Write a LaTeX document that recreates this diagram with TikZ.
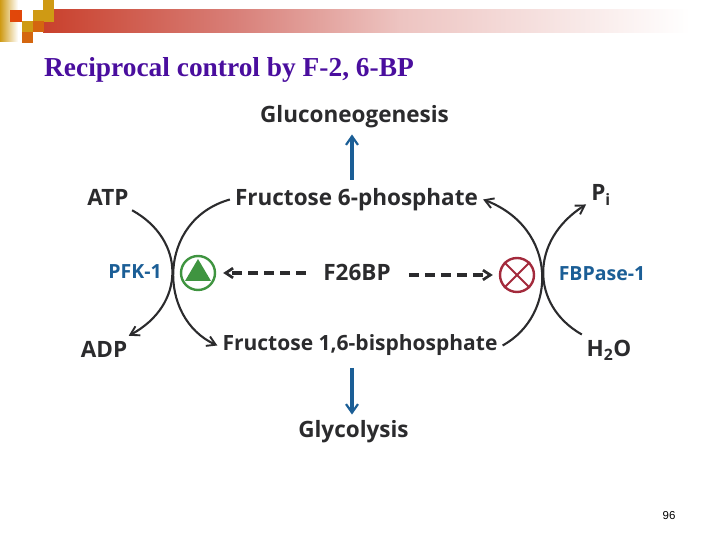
\documentclass[tikz,border=0pt]{standalone}
\usepackage{fontspec}
\setmainfont{Open Sans}
\newfontfamily\titlefont{Liberation Serif}
\newfontfamily\pagefont{Liberation Sans}
\usepackage{xcolor}
\usetikzlibrary{arrows.meta,positioning}
\definecolor{bioInk}{HTML}{2B2B2D}
\definecolor{bioBlue}{HTML}{1B5E96}
\definecolor{bioGreen}{HTML}{3F9440}
\definecolor{bioRed}{HTML}{A32A3C}
\definecolor{slideTitle}{HTML}{4A0E9E}
\definecolor{slideRed}{HTML}{C9402C}
\definecolor{slideMid}{HTML}{D87F78}
\definecolor{slideLow}{HTML}{EDC4C1}
\definecolor{slideGold}{HTML}{CF9A14}
\definecolor{slideOrange}{HTML}{D4660F}
\tikzset{
  metab/.style={font=\bfseries\fontsize{22.5}{26}\selectfont, text=bioInk, inner sep=5pt},
  enzyme/.style={font=\bfseries\fontsize{19.5}{23}\selectfont, text=bioBlue, inner sep=2pt},
  arrcurve/.style={-{Straight Barb[length=3mm,width=3.6mm,line width=1.9pt]}, line width=2.1pt, draw=bioInk},
  arrdash/.style={-{Straight Barb[length=2.6mm,width=3.4mm,line width=2.7pt]}, line width=3.2pt, draw=bioInk, dash pattern=on 10pt off 6pt},
  arrpath/.style={-{Straight Barb[length=3mm,width=4.2mm,line width=2.2pt]}, line width=3.2pt, draw=bioBlue},
  square/.style={minimum size=11pt, inner sep=0pt, draw=none, fill=#1},
}
\begin{document}
\begin{tikzpicture}[x=1pt,y=1pt]
\useasboundingbox (0,0) rectangle (720,540);

% slide header
\fill[left color=slideGold, right color=white] (0,498) rectangle (18,540);
\fill[left color=slideRed, right color=slideMid] (43,507) rectangle (235,530);
\fill[left color=slideMid, right color=slideLow] (235,507) rectangle (400,530);
\fill[left color=slideLow, right color=white] (400,507) rectangle (690,530);
\node[square=slideOrange!70!red, minimum size=12pt] (sqA) at (16,524) {};
\node[square=slideGold] (sqB) at (38,524) {};
\node[square=slideGold, minimum height=22pt] (sqC) at (48.5,529) {};
\node[square=slideGold] (sqD) at (27,513) {};
\node[square=slideOrange] (sqE) at (38,513) {};
\node[square=slideOrange] (sqF) at (27.5,502) {};
\node[anchor=base west, inner sep=0pt, font=\titlefont\bfseries\fontsize{27.4}{32}\selectfont, text=slideTitle] (title) at (44,463) {Reciprocal control by F-2, 6-BP};
\node[font=\pagefont\fontsize{11.5}{13}\selectfont, text=black] (pageno) at (669,24) {96};

% metabolites
\node[metab] (f6p) at (356.5,340.5) {Fructose 6-phosphate};
\node[metab, font=\bfseries\fontsize{21}{25}\selectfont] (fbp) at (360,194.5) {Fructose 1,6-bisphosphate};
\node[metab] (f26) at (357,268) {F26BP};
\node[metab] (gng) at (354.5,423) {Gluconeogenesis};
\node[metab] (gly) at (353.5,108) {Glycolysis};
\node[metab] (atp) at (108,343) {ATP};
\node[metab] (adp) at (104,191) {ADP};
\node[metab] (pi) at (601,345) {P\textsubscript{i}};
\node[metab] (water) at (609,190) {H\textsubscript{2}O};

% enzymes
\node[enzyme] (pfk) at (135,268) {PFK-1};
\node[enzyme] (fbpase) at (602,266) {FBPase-1};

% effector marks
\node[circle, draw=bioGreen, line width=2.4pt, minimum size=34pt, inner sep=0pt] (activ) at (198,267) {};
\fill[bioGreen] (185,259) -- (211,259) -- (198,281) -- cycle;
\node[circle, draw=bioRed, line width=2.4pt, minimum size=34pt, inner sep=0pt] (inhib) at (517,265) {};
\draw[bioRed, line width=2pt] (inhib.north west) -- (inhib.south east);
\draw[bioRed, line width=2pt] (inhib.north east) -- (inhib.south west);

% pathway arrows
\coordinate (upstart) at (352,360);
\coordinate (downstart) at (352,172);
\draw[arrpath, shorten >=1pt] (upstart) -- (upstart |- gng.south);
\draw[arrpath, shorten >=1pt] (downstart) -- (downstart |- gly.north);
\draw[arrdash, shorten <=12pt, shorten >=7pt] (f26.west |- activ) -- (activ);
\draw[arrdash, shorten <=13pt, shorten >=6pt] (f26.east |- inhib) -- (inhib);

% PFK-1 curves
\draw[arrcurve] (atp) .. controls (186,300) and (186,235) .. (adp);
\draw[arrcurve] (f6p.west) .. controls (157,320) and (157,222) .. (fbp.west);

% FBPase-1 curves
\draw[arrcurve] (fbp.east) .. controls (558,225) and (558,312) .. (f6p.east);
\draw[arrcurve] (water) .. controls (530,235) and (530,300) .. (pi);
\end{tikzpicture}
\end{document}
